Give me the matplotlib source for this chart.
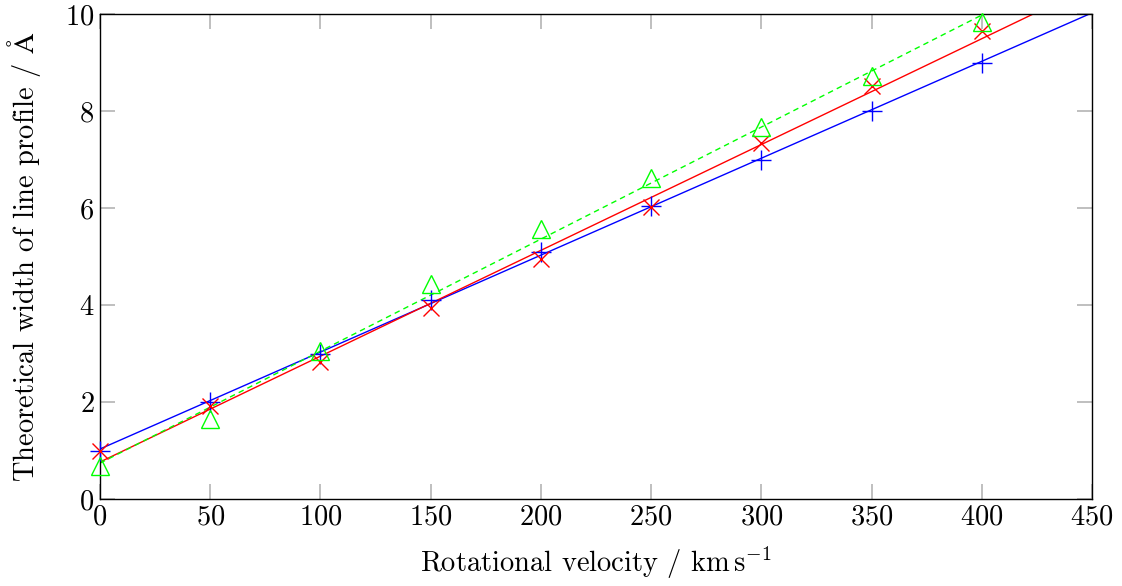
import numpy as np
import matplotlib
matplotlib.use("Agg")
import matplotlib.pyplot as plt

plt.rcParams['font.family'] = ['cmr10', 'DejaVu Serif']
plt.rcParams['mathtext.fontset'] = 'cm'
plt.rcParams['axes.formatter.use_mathtext'] = True

# Data
velocity = [0, 50, 100, 150, 200, 250, 300, 350, 400]
width_blue = [1.0, 2.0, 3.0, 4.1, 5.1, 6.05, 7.0, 8.0, 9.0]
width_red = [1.0, 1.92, 2.83, 3.93, 4.94, 6.03, 7.33, 8.52, 9.64]
width_green = [0.68, 1.65, 3.05, 4.43, 5.56, 6.62, 7.68, 8.73, 9.83]
x_ticks = [0, 50, 100, 150, 200, 250, 300, 350, 400, 450]
y_ticks = [0, 2, 4, 6, 8, 10]

fig = plt.figure(figsize=(11.22, 5.86), dpi=100)
ax = fig.add_axes([100/1122, 1-499/586, 992/1122, 485/586])

xs = np.array(velocity, dtype=float)
xfit = np.linspace(0, 450, 200)

series = [
    (width_blue, 'blue', '+', '-', 15),
    (width_red, 'red', 'x', '-', 12),
    (width_green, 'lime', '^', '--', 13),
]
for ys, col, mk, ls, ms in series:
    k, b = np.polyfit(xs, np.array(ys), 1)
    ax.plot(xfit, k*xfit + b, color=col, lw=1.0, ls=ls, dashes=(4, 3) if ls == '--' else (None, None))
    ax.plot(xs, ys, ls='none', marker=mk, color=col, ms=ms,
            mfc='none', mew=1.0, clip_on=False, zorder=3)

ax.set_xlim(0, 450)
ax.set_ylim(0, 10)
ax.set_xticks(x_ticks)
ax.set_yticks(y_ticks)
ax.tick_params(direction='in', length=11, width=1.2, color='#b4b4b4',
               top=True, right=True, labelsize=20.5, pad=4)
for sp in ax.spines.values():
    sp.set_linewidth(1.0)

ax.set_xlabel(r'Rotational velocity / $\mathrm{km\,s^{-1}}$', fontsize=20.5, labelpad=10)
ax.set_ylabel(r'Theoretical width of line profile / $\mathrm{\AA}$', fontsize=20.5, labelpad=16)

fig.savefig('out.png', dpi=100)
